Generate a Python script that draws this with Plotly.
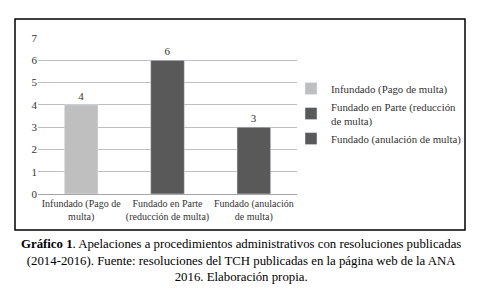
import plotly.graph_objects as go

categories = ["Infundado (Pago de<br>multa)", "Fundado en Parte<br>(reducción de multa)", "Fundado (anulación<br>de multa)"]
legend_names = ["Infundado (Pago de multa)", "Fundado en Parte (reducción<br>de multa)", "Fundado (anulación de multa)"]
values = [4, 6, 3]
colors = ["#BFBFBF", "#595959", "#595959"]

W, H = 488, 303
L, R, T, B = 38, 297, 38, 194  # plot area pixels

def px(x):
    return (x - L) / (R - L)

def py(y):
    return (B - y) / (B - T)

FONT = "Liberation Serif"

fig = go.Figure()
for cat, name, v, c in zip(categories, legend_names, values, colors):
    fig.add_trace(go.Bar(x=[cat], y=[v], name=name, marker_color=c, width=0.39,
                         text=[str(v)], textposition="outside", cliponaxis=False,
                         textfont=dict(family=FONT, size=11, color="#333333")))

fig.update_layout(
    width=W, height=H,
    margin=dict(l=L, r=W - R, t=T, b=H - B, pad=0, autoexpand=False),
    paper_bgcolor="white", plot_bgcolor="white",
    barmode="overlay",
    font=dict(family=FONT, size=11, color="#333333"),
    showlegend=True,
    legend=dict(x=px(291), y=py(74), xanchor="left", yanchor="top",
                font=dict(family=FONT, size=10.8, color="#333333"), tracegroupgap=12,
                itemwidth=30, bgcolor="rgba(0,0,0,0)"),
    xaxis=dict(categoryorder="array", categoryarray=categories, automargin=False,
               showline=True, linecolor="#A6A6A6", linewidth=1, tickangle=0,
               ticks="", tickfont=dict(family=FONT, size=10, color="#333333"), showgrid=False),
    yaxis=dict(range=[0, 7], dtick=1, showgrid=True, gridcolor="#BFBFBF", gridwidth=1,
               zeroline=False, showline=False, ticks="", automargin=False,
               tickfont=dict(family=FONT, size=11, color="#333333")),
)
fig.add_shape(type="rect", xref="paper", yref="paper",
              x0=px(15), x1=px(465), y0=py(230), y1=py(19),
              line=dict(color="black", width=1.5), fillcolor="rgba(0,0,0,0)")
fig.add_annotation(xref="paper", yref="paper", x=px(241), y=py(235),
                   xanchor="center", yanchor="top", showarrow=False, align="center",
                   text="<b>Gráfico 1</b>. Apelaciones a procedimientos administrativos con resoluciones publicadas<br>(2014-2016). Fuente: resoluciones del TCH publicadas en la página web de la ANA<br>2016. Elaboración propia.",
                   font=dict(family=FONT, size=12.8, color="black"))
fig.write_html("out.html", config={"displayModeBar": False},
               post_script="document.body.style.margin='0';document.body.style.overflow='hidden';")
